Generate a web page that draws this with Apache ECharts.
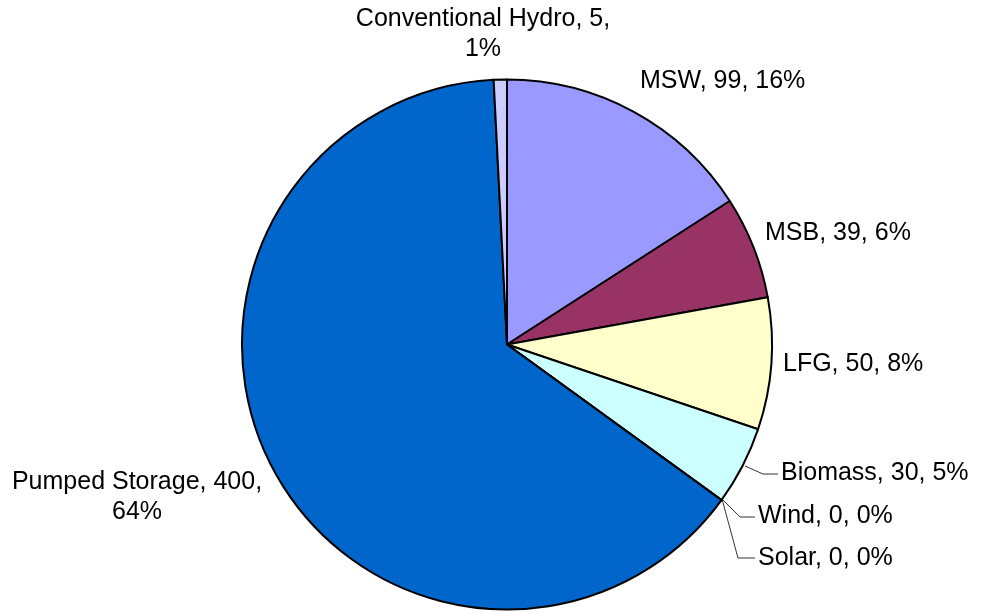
<!DOCTYPE html>
<html>
<head>
<meta charset="utf-8">
<script src="https://cdn.jsdelivr.net/npm/echarts@6/dist/echarts.min.js"></script>
<style>
html,body{margin:0;padding:0;background:#fff;}
#chart{width:995px;height:612px;}
</style>
</head>
<body>
<div id="chart"></div>
<script>
// Data
const categories = ['MSW', 'MSB', 'LFG', 'Biomass', 'Wind', 'Solar', 'Pumped Storage', 'Conventional Hydro'];
const values = [99, 39, 50, 30, 0, 0, 400, 5];

// Styles
const colors = ['#9999FF', '#993366', '#FFFFCC', '#CCFFFF', '#FFFFFF', '#FFFFFF', '#0066CC', '#CCCCFF'];
const wrapAfterValue = ['Pumped Storage', 'Conventional Hydro'];
const withLeader = ['Biomass', 'Wind', 'Solar'];
// label placement (x, y, align) and leader line points
const labelPlace = {
  'MSW': {x: 640, y: 81, align: 'left'},
  'MSB': {x: 765, y: 233, align: 'left'},
  'LFG': {x: 783, y: 364, align: 'left'},
  'Biomass': {x: 781, y: 473, align: 'left', line: [[745, 466], [763, 474], [778, 474]]},
  'Wind': {x: 758, y: 516, align: 'left', line: [[722, 499], [740, 517], [755, 517]]},
  'Solar': {x: 758, y: 558, align: 'left', line: [[722, 499], [738, 558], [755, 558]]},
  'Pumped Storage': {x: 137, y: 497, align: 'center'},
  'Conventional Hydro': {x: 483, y: 34, align: 'center'}
};

const chart = echarts.init(document.getElementById('chart'), null, {renderer: 'canvas'});

const seriesData = categories.map((name, i) => ({
  name: name,
  value: values[i],
  itemStyle: {color: colors[i]},
  labelLine: {show: withLeader.indexOf(name) >= 0}
}));

chart.setOption({
  animation: false,
  backgroundColor: '#ffffff',
  series: [{
    type: 'pie',
    center: [507, 344.5],
    radius: 265,
    startAngle: 90,
    clockwise: true,
    percentPrecision: 0,
    avoidLabelOverlap: false,
    stillShowZeroSum: true,
    minShowLabelAngle: 0,
    data: seriesData,
    itemStyle: {borderColor: '#000000', borderWidth: 2},
    emphasis: {disabled: true},
    label: {
      show: true,
      position: 'outside',
      color: '#000000',
      fontFamily: '"Liberation Sans", Arial, sans-serif',
      fontSize: 25,
      lineHeight: 30,
      formatter: function (p) {
        const sep = wrapAfterValue.indexOf(p.name) >= 0 ? ',\n' : ', ';
        return p.name + ', ' + p.value + sep + p.percent + '%';
      }
    },
    labelLine: {
      show: true,
      lineStyle: {color: '#333333', width: 1}
    },
    labelLayout: function (params) {
      const name = categories[params.dataIndex];
      const pl = labelPlace[name];
      const res = {x: pl.x, y: pl.y, align: pl.align, verticalAlign: 'middle'};
      if (pl.line) res.labelLinePoints = pl.line;
      return res;
    }
  }]
});
</script>
</body>
</html>
